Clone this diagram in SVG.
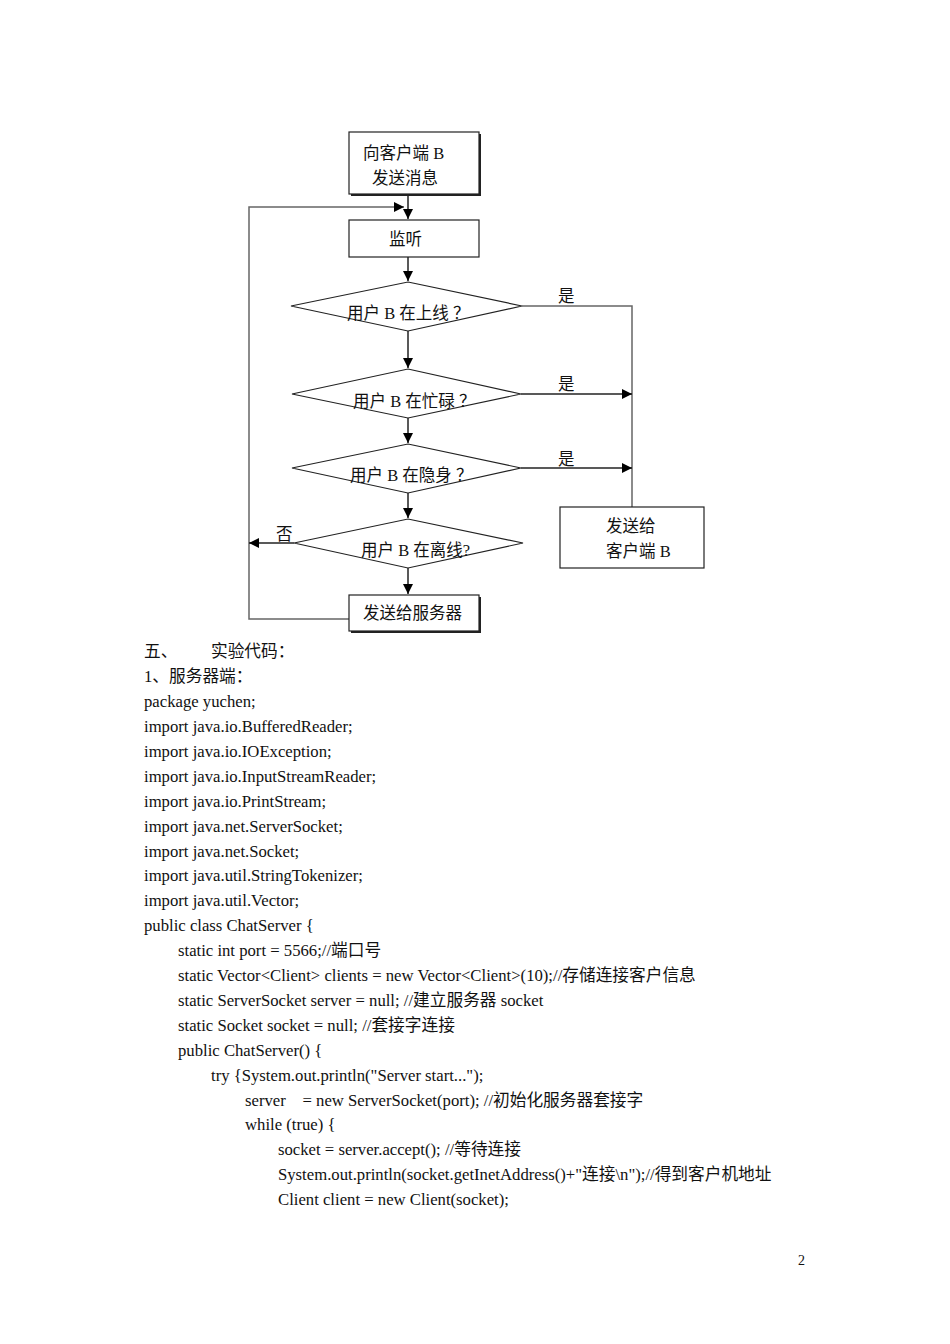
<svg xmlns="http://www.w3.org/2000/svg" width="950" height="1344" viewBox="0 0 950 1344">
<defs>
<marker id="ah" viewBox="0 0 10 10" refX="10" refY="5" markerWidth="10" markerHeight="10" markerUnits="userSpaceOnUse" orient="auto">
<path d="M0,0 L10,5 L0,10 Z" fill="#000"/>
</marker>
</defs>
<style>
.t{font-family:"Liberation Serif","Noto Sans CJK SC",serif;font-size:16.5px;fill:#111}
.c{font-size:16.7px}
.box{fill:#fff;stroke:#222;stroke-width:1.2}
.sh{fill:#222}
.ln{fill:none;stroke:#222;stroke-width:1.5}
.gl{fill:none;stroke:#666;stroke-width:1.5}
</style>
<rect width="950" height="1344" fill="#fff"/>
<g id="connectors">
<line class="ln" x1="408" y1="194" x2="408" y2="219" marker-end="url(#ah)"/>
<polyline class="gl" points="349,619 249,619 249,207 404,207" marker-end="url(#ah)"/>
<line class="ln" x1="408" y1="257" x2="408" y2="281" marker-end="url(#ah)"/>
<line class="ln" x1="408" y1="331" x2="408" y2="368" marker-end="url(#ah)"/>
<line class="ln" x1="408" y1="418" x2="408" y2="443" marker-end="url(#ah)"/>
<line class="ln" x1="408" y1="493" x2="408" y2="518" marker-end="url(#ah)"/>
<line class="ln" x1="408" y1="568" x2="408" y2="594" marker-end="url(#ah)"/>
<polyline class="gl" points="522,306 632,306 632,507"/>
<line class="ln" x1="521" y1="394" x2="632" y2="394" marker-end="url(#ah)"/>
<line class="ln" x1="521" y1="468" x2="632" y2="468" marker-end="url(#ah)"/>
<line class="ln" x1="294" y1="543" x2="249" y2="543" marker-end="url(#ah)"/>
<text class="t" x="558" y="302">是</text>
<text class="t" x="558" y="390">是</text>
<text class="t" x="558" y="465">是</text>
<text class="t" x="276" y="540">否</text>
</g>
<g id="n1">
<rect class="sh" x="351" y="134" width="130" height="62"/>
<rect class="box" x="349" y="132" width="130" height="62"/>
<text class="t" x="363" y="159">向客户端 B</text>
<text class="t" x="372" y="184">发送消息</text>
</g>
<g id="n2">
<rect class="box" x="349" y="220" width="130" height="37"/>
<text class="t" x="389" y="245">监听</text>
</g>
<g id="d1">
<polygon class="box" points="408,282 522,306 408,331 291,306"/>
<text class="t" x="347" y="319">用户 B 在上线 ？</text>
</g>
<g id="d2">
<polygon class="box" points="408,369 521,394 408,418 292,394"/>
<text class="t" x="353" y="407">用户 B 在忙碌 ？</text>
</g>
<g id="d3">
<polygon class="box" points="408,444 521,468 408,493 292,468"/>
<text class="t" x="350" y="481">用户 B 在隐身 ？</text>
</g>
<g id="d4">
<polygon class="box" points="408,519 523,543 408,568 294,543"/>
<text class="t" x="361" y="556">用户 B 在离线?</text>
</g>
<g id="n3">
<rect class="sh" x="351" y="597" width="130" height="36"/>
<rect class="box" x="349" y="595" width="130" height="36"/>
<text class="t" x="363" y="619">发送给服务器</text>
</g>
<g id="n4">
<rect class="box" x="560" y="507" width="144" height="61"/>
<text class="t" x="606" y="532">发送给</text>
<text class="t" x="606" y="557">客户端 B</text>
</g>
<g id="code">
<text class="t c" x="144" y="657">五、</text>
<text class="t c" x="211" y="657">实验代码：</text>
<text class="t c" x="144" y="682">1、服务器端：</text>
<text class="t c" x="144" y="707">package yuchen;</text>
<text class="t c" x="144" y="732">import java.io.BufferedReader;</text>
<text class="t c" x="144" y="757">import java.io.IOException;</text>
<text class="t c" x="144" y="782">import java.io.InputStreamReader;</text>
<text class="t c" x="144" y="807">import java.io.PrintStream;</text>
<text class="t c" x="144" y="832">import java.net.ServerSocket;</text>
<text class="t c" x="144" y="857">import java.net.Socket;</text>
<text class="t c" x="144" y="881">import java.util.StringTokenizer;</text>
<text class="t c" x="144" y="906">import java.util.Vector;</text>
<text class="t c" x="144" y="931">public class ChatServer {</text>
<text class="t c" x="178" y="956">static int port = 5566;//端口号</text>
<text class="t c" x="178" y="981">static Vector&lt;Client&gt; clients = new Vector&lt;Client&gt;(10);//存储连接客户信息</text>
<text class="t c" x="178" y="1006">static ServerSocket server = null; //建立服务器 socket</text>
<text class="t c" x="178" y="1031">static Socket socket = null; //套接字连接</text>
<text class="t c" x="178" y="1056">public ChatServer() {</text>
<text class="t c" x="211" y="1081">try {System.out.println("Server start...");</text>
<text class="t c" x="245" y="1106" xml:space="preserve">server    = new ServerSocket(port); //初始化服务器套接字</text>
<text class="t c" x="245" y="1130">while (true) {</text>
<text class="t c" x="278" y="1155">socket = server.accept(); //等待连接</text>
<text class="t c" x="278" y="1180">System.out.println(socket.getInetAddress()+"连接\n");//得到客户机地址</text>
<text class="t c" x="278" y="1205">Client client = new Client(socket);</text>
<text class="t" x="798" y="1265" style="font-size:14px">2</text>
</g>
</svg>
